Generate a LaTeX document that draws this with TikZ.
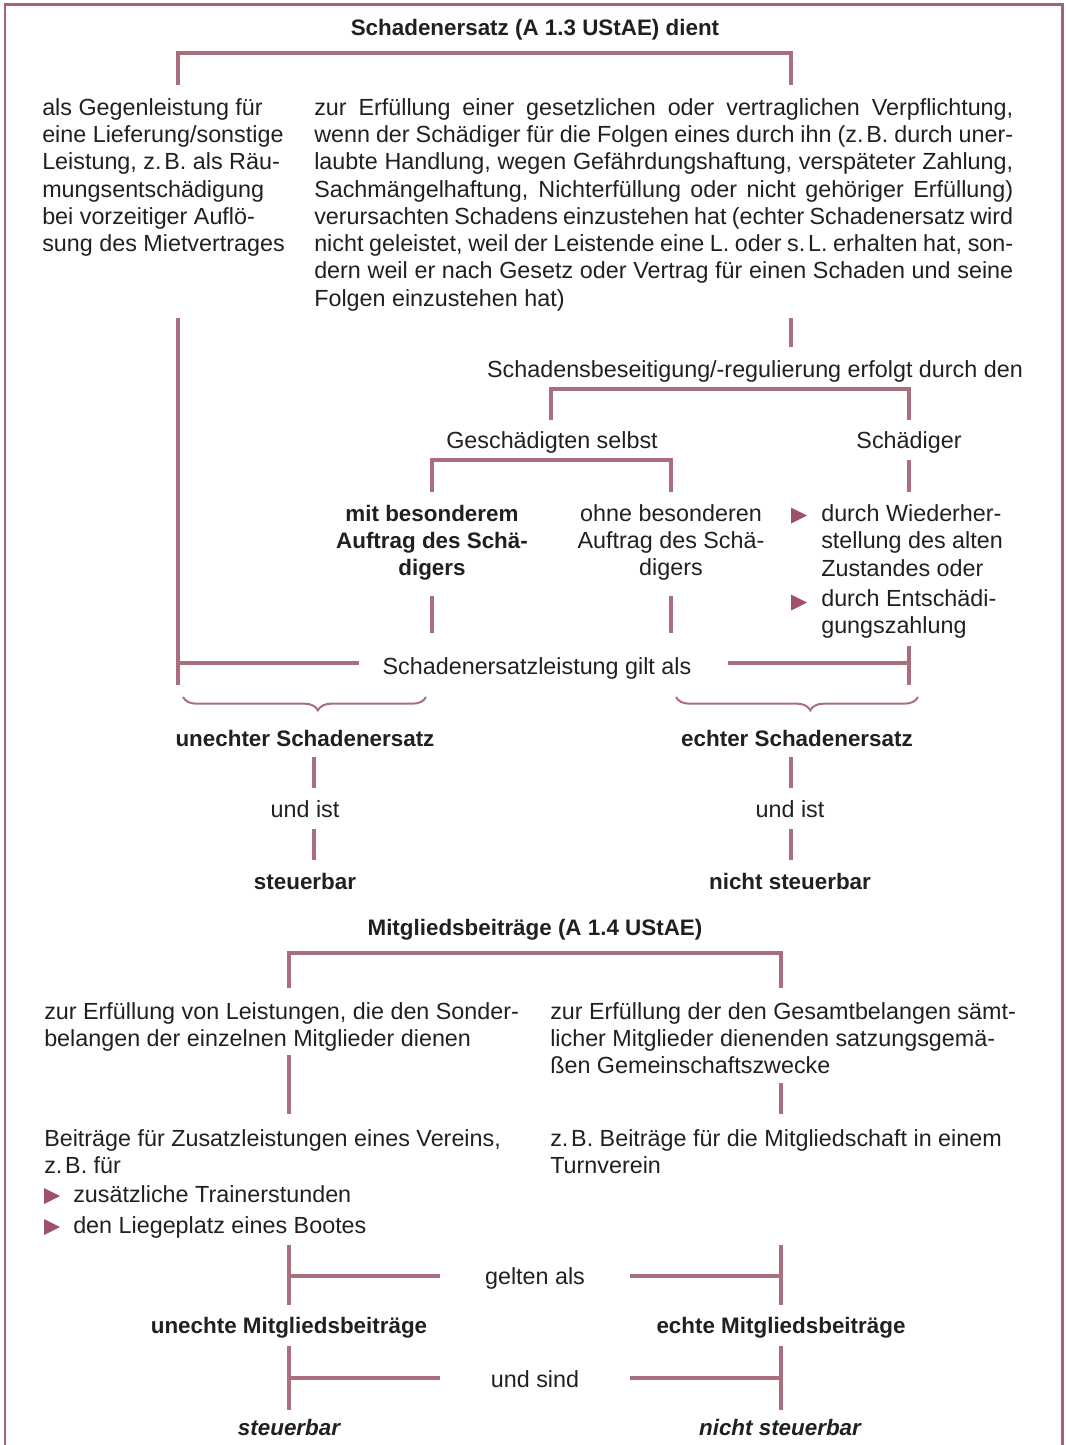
\documentclass[tikz,border=0pt]{standalone}
\usepackage{fontspec}
\setmainfont{Liberation Sans}
\usetikzlibrary{decorations.pathreplacing}
\definecolor{rose}{RGB}{171,110,124}
\definecolor{framec}{RGB}{168,98,116}
\definecolor{bul}{RGB}{158,82,104}
\definecolor{ink}{RGB}{35,31,32}
\newcommand\zB{z.\kern0.12em B.}
\newcommand\rtxt{\fontsize{17.5}{20.5}\selectfont}
\newcommand\btxt{\fontsize{16.8}{20.3}\selectfont\bfseries}
\newlength\jw \setlength\jw{524.25pt}
\newcommand\jl[1]{\makebox[\jw][s]{#1}}
\newcommand\linesL[1]{\begin{tabular}[t]{@{}l@{}}#1\end{tabular}}
\newcommand\linesC[1]{\begin{tabular}[t]{@{}c@{}}#1\end{tabular}}
\begin{document}
\begin{tikzpicture}[x=0.75pt,y=-0.75pt,
  txt/.style={inner sep=0pt,text=ink,font=\rtxt,anchor=base},
  bold/.style={inner sep=0pt,text=ink,font=\btxt,anchor=base},
  conn/.style={draw=rose,line width=3pt,line join=miter},
  brc/.style={draw=rose,line width=1.5pt,decorate,decoration={brace,mirror,amplitude=10pt,aspect=0.555}},
  bulletmark/.style={fill=bul}]
\path[use as bounding box] (0,0) rectangle (1065,1445);
% frame
\draw[framec,line width=1.6pt] (5,1450) -- (5,4.5) -- (1062.5,4.5) -- (1062.5,1450);

% ---------- Schadenersatz ----------
\node[bold] (t1) at (535,36) {Schadenersatz (A 1.3 UStAE) dient};
\coordinate (b1L) at (178,85); \coordinate (b1m) at (484,53); \coordinate (b1R) at (791,85);
\draw[conn] (b1L) |- (b1m) -| (b1R);

\node[txt,anchor=base west] (lt) at (42,115) {\linesL{als Gegenleistung für\\eine Lieferung/sonstige\\Leistung, \zB{} als Räu-\\mungsentschädigung\\bei vorzeitiger Auflö-\\sung des Mietvertrages}};
\node[txt,anchor=base west] (rt) at (314,115) {\linesL{%
\jl{zur Erfüllung einer gesetzlichen oder vertraglichen Verpflichtung,}\\
\jl{wenn der Schädiger für die Folgen eines durch ihn (\zB{} durch uner-}\\
\jl{laubte Handlung, wegen Gefährdungshaftung, verspäteter Zahlung,}\\
\jl{Sachmängelhaftung, Nichterfüllung oder nicht gehöriger Erfüllung)}\\
\jl{verursachten Schadens einzustehen hat (echter Schadenersatz wird}\\
\jl{nicht geleistet, weil der Leistende eine L. oder s.\kern0.12em L. erhalten hat, son-}\\
\jl{dern weil er nach Gesetz oder Vertrag für einen Schaden und seine}\\
Folgen einzustehen hat)}};

\coordinate (lv1) at (178,318); \coordinate (lv2) at (178,685); \coordinate (lh) at (359,663);
\draw[conn] (lv1) -- (lv2);
\draw[conn] (lv1 |- lh) -- (lh);
\coordinate (rv1) at (791,318); \coordinate (rv2) at (791,347);
\draw[conn] (rv1) -- (rv2);

\node[txt] (sb) at (755,377) {Schadensbeseitigung/-regulierung erfolgt durch den};
\coordinate (b2L) at (551,420); \coordinate (b2m) at (730,389); \coordinate (b2R) at (909,420);
\draw[conn] (b2L) |- (b2m) -| (b2R);

\node[txt] (gs) at (552,448) {Geschädigten selbst};
\node[txt] (sd) at (909,448) {Schädiger};
\coordinate (b3L) at (432,492); \coordinate (b3m) at (551,460); \coordinate (b3R) at (671,492);
\draw[conn] (b3L) |- (b3m) -| (b3R);
\coordinate (sv1) at (909,460); \coordinate (sv2) at (909,492);
\draw[conn] (sv1) -- (sv2);

\node[bold] (mb) at (432,521) {\linesC{mit besonderem\\Auftrag des Schä-\\digers}};
\node[txt] (ob) at (671,521) {\linesC{ohne besonderen\\Auftrag des Schä-\\digers}};
\fill[bulletmark] (791,507.5) -- (807,515.5) -- (791,523.5) -- cycle;
\fill[bulletmark] (791,594.5) -- (807,602.5) -- (791,610.5) -- cycle;
\node[txt,anchor=base west] (w1) at (821,521.5) {\linesL{durch Wiederher-\\stellung des alten\\Zustandes oder}};
\node[txt,anchor=base west] (w2) at (821,606.5) {\linesL{durch Entschädi-\\gungszahlung}};

\coordinate (mv1) at (432,596); \coordinate (mv2) at (432,633);
\coordinate (ov1) at (671,596); \coordinate (ov2) at (671,633);
\draw[conn] (mv1) -- (mv2);
\draw[conn] (ov1) -- (ov2);
\coordinate (rv3) at (909,646); \coordinate (rv4) at (909,685); \coordinate (rh) at (728,663);
\draw[conn] (rv3) -- (rv4);
\draw[conn] (rh) -- (rh -| rv3);

\node[txt] (sl) at (537,674) {Schadenersatzleistung gilt als};

\coordinate (brLa) at (183,697); \coordinate (brLb) at (426,697);
\coordinate (brRa) at (676,697); \coordinate (brRb) at (918,697);
\draw[brc] (brLa) -- (brLb);
\draw[brc] (brRa) -- (brRb);

\node[bold] (us) at (305,746) {unechter Schadenersatz};
\node[bold] (es) at (797,746) {echter Schadenersatz};
\coordinate (u1) at (314,757); \coordinate (u2) at (314,788);
\coordinate (u3) at (314,829); \coordinate (u4) at (314,860);
\coordinate (e1) at (791,757); \coordinate (e2) at (791,788);
\coordinate (e3) at (791,829); \coordinate (e4) at (791,860);
\draw[conn] (u1) -- (u2); \draw[conn] (u3) -- (u4);
\draw[conn] (e1) -- (e2); \draw[conn] (e3) -- (e4);
\node[txt] (ui) at (305,817) {und ist};
\node[txt] (ei) at (790,817) {und ist};
\node[bold] (st1) at (305,889) {steuerbar};
\node[bold] (nst1) at (790,889) {nicht steuerbar};

% ---------- Mitgliedsbeiträge ----------
\node[bold] (t2) at (535,935) {Mitgliedsbeiträge (A 1.4 UStAE)};
\coordinate (b4L) at (289,988); \coordinate (b4m) at (535,953); \coordinate (b4R) at (781,988);
\draw[conn] (b4L) |- (b4m) -| (b4R);

\node[txt,anchor=base west] (ml) at (44,1019) {\linesL{zur Erfüllung von Leistungen, die den Sonder-\\belangen der einzelnen Mitglieder dienen}};
\node[txt,anchor=base west] (mr) at (550,1019) {\linesL{zur Erfüllung der den Gesamtbelangen sämt-\\licher Mitglieder dienenden satzungsgemä-\\ßen Gemeinschaftszwecke}};

\coordinate (mlv1) at (289,1055); \coordinate (mlv2) at (289,1114);
\coordinate (mrv1) at (781,1083); \coordinate (mrv2) at (781,1114);
\draw[conn] (mlv1) -- (mlv2);
\draw[conn] (mrv1) -- (mrv2);

\node[txt,anchor=base west] (bz) at (44,1146) {\linesL{Beiträge für Zusatzleistungen eines Vereins,\\\zB{} für}};
\node[txt,anchor=base west] (bm) at (550,1146) {\linesL{\zB{} Beiträge für die Mitgliedschaft in einem\\Turnverein}};
\fill[bulletmark] (44,1188) -- (60,1196) -- (44,1204) -- cycle;
\fill[bulletmark] (44,1219) -- (60,1227) -- (44,1235) -- cycle;
\node[txt,anchor=base west] (z1) at (73,1202) {zusätzliche Trainerstunden};
\node[txt,anchor=base west] (z2) at (73,1233) {den Liegeplatz eines Bootes};

\coordinate (g1) at (289,1245); \coordinate (g2) at (289,1305); \coordinate (gh1) at (440,1276);
\coordinate (g3) at (781,1245); \coordinate (g4) at (781,1305); \coordinate (gh2) at (630,1276);
\draw[conn] (g1) -- (g2); \draw[conn] (g1 |- gh1) -- (gh1);
\draw[conn] (g3) -- (g4); \draw[conn] (gh2) -- (gh2 -| g3);
\node[txt] (ga) at (535,1284) {gelten als};

\node[bold] (um) at (289,1333) {unechte Mitgliedsbeiträge};
\node[bold] (em) at (781,1333) {echte Mitgliedsbeiträge};

\coordinate (k1) at (289,1346); \coordinate (k2) at (289,1410); \coordinate (kh1) at (440,1378);
\coordinate (k3) at (781,1346); \coordinate (k4) at (781,1410); \coordinate (kh2) at (630,1378);
\draw[conn] (k1) -- (k2); \draw[conn] (k1 |- kh1) -- (kh1);
\draw[conn] (k3) -- (k4); \draw[conn] (kh2) -- (kh2 -| k3);
\node[txt] (usd) at (535,1387) {und sind};

\node[bold,font=\btxt\itshape] (st2) at (289,1435) {steuerbar};
\node[bold,font=\btxt\itshape] (nst2) at (780,1435) {nicht steuerbar};
\end{tikzpicture}
\end{document}
